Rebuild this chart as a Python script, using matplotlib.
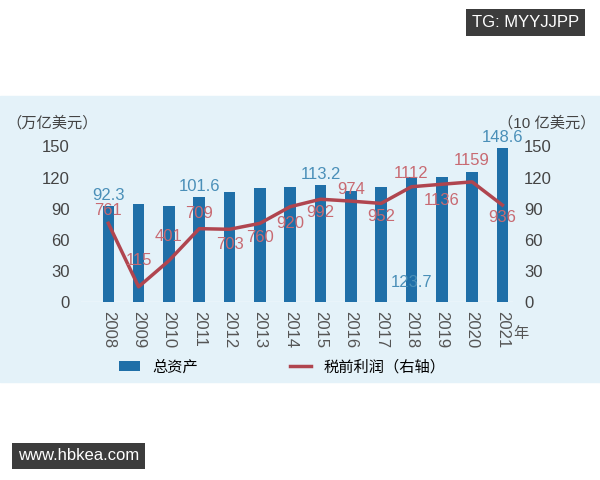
import matplotlib
matplotlib.use("Agg")
import matplotlib.pyplot as plt
from matplotlib.patches import Rectangle

plt.rcParams['font.family'] = ['Liberation Sans', 'Noto Sans CJK SC', 'DejaVu Sans']

years = ['2008','2009','2010','2011','2012','2013','2014','2015','2016','2017','2018','2019','2020','2021']
assets = [92.3, 95, 93, 101.6, 106, 110, 111, 113.2, 107, 111, 121, 121, 125, 148.6]
profit = [76.1, 15, 40.1, 70.9, 70.3, 76.0, 92.0, 99.2, 97.4, 95.2, 111.2, 113.6, 115.9, 93.6]
profit_labels = ['761','115','401','709','703','760','920','992','974','952','1112','1136','1159','936']
asset_labels = {0: '92.3', 3: '101.6', 7: '113.2', 10: '123.7', 13: '148.6'}

bg = '#e4f2f9'
bar_c = '#1f6fa8'
line_c = '#b0454f'
lab_b = '#4a8fb8'
lab_r = '#c86a72'
tick_c = '#444444'

fig = plt.figure(figsize=(6, 4.8), dpi=100)
fig.patches.append(Rectangle((0, 0.205), 1, 0.595, transform=fig.transFigure, color=bg, zorder=-1))

ax = fig.add_axes([0.135, 0.37, 0.72, 0.325])
ax.set_facecolor(bg)
x = list(range(len(years)))
ax.bar(x, assets, width=0.38, color=bar_c, zorder=2, label='总资产')
ax.set_ylim(0, 150)
ax.set_yticks([0, 30, 60, 90, 120, 150])
ax.set_xlim(-0.9, 13.35)
ax.set_xticks(x)
ax.set_xticklabels(years, rotation=-90, fontsize=12, color='#555555')
ax.tick_params(length=0, labelsize=12, colors=tick_c, pad=8)
ax.tick_params(axis='x', colors='#555555', pad=6)
for s in ax.spines.values():
    s.set_visible(False)
ax.axhline(0, color='white', lw=1, zorder=1)

ax2 = ax.twinx()
ax2.plot(x, profit, color=line_c, lw=2.5, zorder=3, label='税前利润（右轴）')
ax2.set_ylim(0, 150)
ax2.set_yticks([0, 30, 60, 90, 120, 150])
ax2.tick_params(length=0, labelsize=12, colors=tick_c, pad=8)
for s in ax2.spines.values():
    s.set_visible(False)

for i, t in asset_labels.items():
    yv = 12 if i == 10 else assets[i] + 3
    ax2.text(i, yv, t, color=lab_b, fontsize=12, ha='center', va='bottom', zorder=5)
label_y = [88, 40, 63, 85, 56, 62, 76, 86, 109, 83, 124, 98, 136, 82]
for i, t in enumerate(profit_labels):
    ax2.text(i, label_y[i], t, color=lab_r, fontsize=12, ha='center', va='center', zorder=5)

fig.text(0.01, 0.735, '（万亿美元）', fontsize=11, color=tick_c)
fig.text(0.83, 0.735, '（10 亿美元）', fontsize=11, color=tick_c)
fig.text(0.855, 0.295, '年', fontsize=11, color='#555555')

h1, l1 = ax.get_legend_handles_labels()
h2, l2 = ax2.get_legend_handles_labels()
fig.legend(h1 + h2, l1 + l2, loc='center', bbox_to_anchor=(0.47, 0.235), ncol=2,
           frameon=False, fontsize=11, columnspacing=6, handlelength=1.4)

fig.text(0.965, 0.953, 'TG: MYYJJPP', fontsize=12, color='white', ha='right', va='center',
         bbox=dict(boxstyle='square,pad=0.35', fc='#3c3c3c', ec='none'))
fig.text(0.03, 0.05, 'www.hbkea.com', fontsize=12, color='white', ha='left', va='center',
         bbox=dict(boxstyle='square,pad=0.35', fc='#3c3c3c', ec='none'))

fig.savefig('out.png', dpi=100)
